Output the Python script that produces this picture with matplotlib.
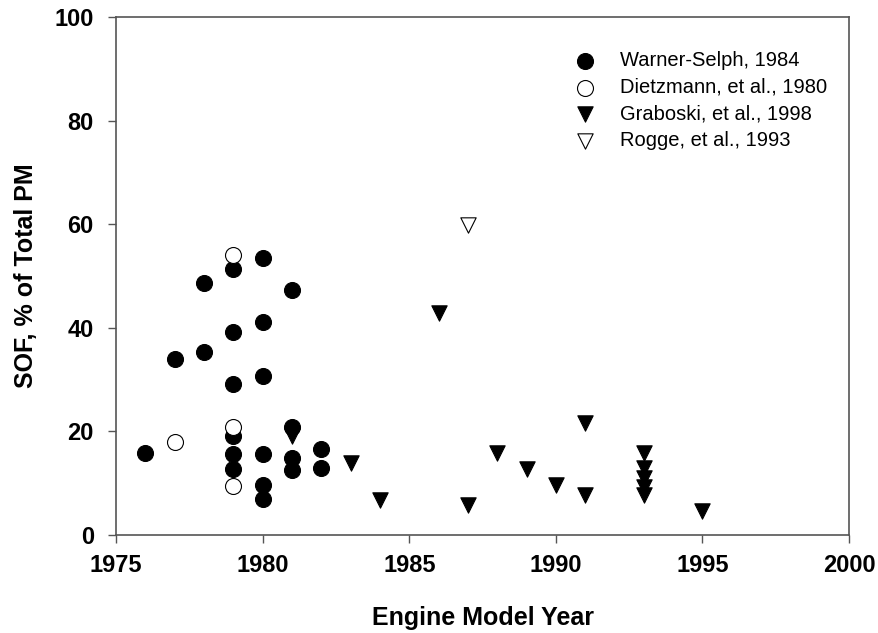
import matplotlib.pyplot as plt

plt.rcParams['font.family'] = ['Liberation Sans', 'DejaVu Sans']

# Warner-Selph, 1984
ws_year = [1976, 1977, 1978, 1978, 1979, 1979, 1979, 1979, 1979, 1979,
           1980, 1980, 1980, 1980, 1980, 1980, 1981, 1981, 1981, 1981,
           1982, 1982]
ws_sof = [15.9, 34, 48.7, 35.4, 51.3, 39.1, 29.2, 19.1, 15.6, 12.7,
          53.4, 41.2, 30.7, 15.6, 9.7, 6.9, 47.3, 20.9, 14.8, 12.5,
          16.6, 12.9]

# Dietzmann, et al., 1980
dz_year = [1977, 1979, 1979, 1979]
dz_sof = [17.9, 54.1, 20.9, 9.5]

# Graboski, et al., 1998
gr_year = [1981, 1983, 1984, 1986, 1987, 1988, 1989, 1990, 1991, 1991,
           1993, 1993, 1993, 1993, 1993, 1995]
gr_sof = [19.1, 13.9, 6.8, 42.8, 5.8, 15.8, 12.7, 9.6, 21.7, 7.7,
          15.8, 13.0, 11.0, 9.2, 7.7, 4.7]

# Rogge, et al., 1993
rg_year = [1987]
rg_sof = [59.8]

fig = plt.figure(figsize=(8.79, 6.33), dpi=100)
ax = fig.add_axes([0.132, 0.155, 0.834, 0.818])

axis_grey = '#555555'
s_circ = 132
s_tri = 122
ax.scatter(ws_year, ws_sof, s=s_circ, marker='o', facecolor='black', edgecolor='black',
           linewidth=0.8, label='Warner-Selph, 1984', zorder=3)
ax.scatter(dz_year, dz_sof, s=s_circ, marker='o', facecolor='white', edgecolor='black',
           linewidth=0.8, label='Dietzmann, et al., 1980', zorder=3)
ax.scatter(gr_year, gr_sof, s=s_tri, marker='v', facecolor='black', edgecolor='black',
           linewidth=0.8, label='Graboski, et al., 1998', zorder=3)
ax.scatter(rg_year, rg_sof, s=s_tri, marker='v', facecolor='white', edgecolor='black',
           linewidth=0.8, label='Rogge, et al., 1993', zorder=3)

ax.set_xlim(1975, 2000)
ax.set_ylim(0, 100)
ax.set_xticks(range(1975, 2001, 5))
ax.set_yticks(range(0, 101, 20))

for side in ax.spines:
    ax.spines[side].set_color(axis_grey)
    ax.spines[side].set_linewidth(1.2)

ax.tick_params(direction='out', length=6, width=1.0, color=axis_grey, labelsize=17)
ax.tick_params(axis='x', pad=7.5)
ax.tick_params(axis='y', pad=10)
for lbl in ax.get_xticklabels() + ax.get_yticklabels():
    lbl.set_fontweight('bold')

ax.set_xlabel('Engine Model Year', fontsize=18, fontweight='bold', labelpad=21)
ax.set_ylabel('SOF, % of Total PM', fontsize=18, fontweight='bold', labelpad=12)

ax.legend(loc='upper left', bbox_to_anchor=(0.619, 0.934), frameon=False,
          fontsize=14.5, handlelength=1.5, handletextpad=1.0, labelspacing=0.38,
          borderpad=0, borderaxespad=0, scatterpoints=1)

fig.savefig('out.png', dpi=100)
